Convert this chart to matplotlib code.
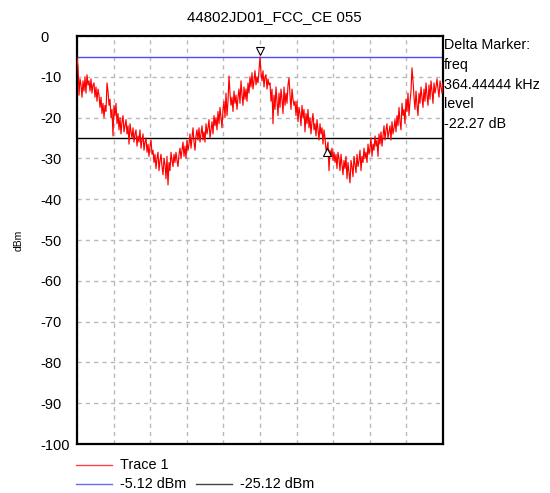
import numpy as np
import matplotlib
matplotlib.use("Agg")
import matplotlib.pyplot as plt
from matplotlib.lines import Line2D
import matplotlib.transforms as mtransforms

plt.rcParams['font.family'] = ['Liberation Sans', 'DejaVu Sans']

title = "44802JD01_FCC_CE 055"
span_khz = 2000.0
trace_dbm = [
    -5.3, -7.5, -14.5, -10.5, -12, -15, -11, -13.5, -10, -14,
    -9.5, -12, -11, -13.5, -10.5, -14, -12, -11.5, -15, -12.5,
    -16, -13, -14.5, -17.5, -15, -19, -16.5, -20, -17, -18.5,
    -11.5, -13.5, -17, -15.5, -20, -18, -24.5, -17, -19.5, -16.5,
    -21.5, -19, -23, -20, -24, -21, -19.5, -23.5, -22, -20.5,
    -24, -22, -26.5, -21.5, -23.5, -25, -22.5, -26, -24, -23,
    -27, -24.5, -26, -23, -27.5, -25.5, -24, -28, -26, -25,
    -28.5, -26.5, -29.5, -27, -25.5, -29, -28, -31, -29, -32.5,
    -30, -28.5, -33, -30.5, -29, -32, -34, -30, -31.5, -35,
    -29.5, -36.5, -31, -33, -28.5, -30.5, -32, -29, -31, -28.5,
    -30.5, -32, -29, -27.5, -30, -28, -26, -29.5, -27, -30,
    -25.5, -28, -26.5, -24, -27.5, -25, -22.5, -26, -28, -24.5,
    -23, -25.5, -22.5, -26, -24, -22, -25.5, -23.5, -26, -21.5,
    -24, -22.5, -20.5, -25, -23, -21, -24, -19.5, -22, -20,
    -23, -18.5, -21.5, -17.5, -20, -22.5, -18, -16, -20, -14,
    -19.5, -16, -9.8, -14, -17, -15, -18.5, -13.5, -16.5, -14.5,
    -18, -15, -13, -16.5, -11, -14.5, -17, -12.5, -15.5, -13,
    -16, -11.5, -14, -10, -12.5, -9, -13, -11, -8.5, -12,
    -10, -11.5, -8.5, -5.12, -9, -11, -8.5, -12.5, -10, -9.5,
    -13, -10.5, -12, -11.5, -16, -13, -21.5, -14.5, -18, -12.5,
    -16, -19.5, -14, -17.5, -13, -15.5, -19, -12.5, -17, -14,
    -16.5, -12, -10.3, -14.5, -18, -13, -15.5, -17, -16, -19.5,
    -16, -21, -17.5, -19, -22, -17, -20, -18, -23.5, -19,
    -21.5, -18, -22.5, -20, -24, -21, -19, -23, -21.5, -24.5,
    -20.5, -23, -25.5, -21.5, -24, -22.5, -26.5, -23, -25, -28,
    -27.4, -26, -33, -28, -29.5, -27.5, -30.5, -28.5, -31, -29,
    -32.5, -28.5, -30, -33, -29, -31.5, -34, -30.5, -32.5, -29.5,
    -35, -31, -33.5, -36, -30.5, -32, -34.5, -29.5, -31.5, -33.5,
    -29, -32, -30.5, -28, -33, -29.5, -31, -27.5, -30, -28.5,
    -31, -26.5, -29, -27.5, -25, -29.5, -26.5, -28, -24.5, -27,
    -25.5, -29.5, -24, -26.5, -23.5, -27, -24.5, -22, -25.5, -23,
    -21.5, -25, -23.5, -22, -25.5, -21, -24, -22.5, -20.5, -23.5,
    -19.5, -22, -17.5, -21, -23, -16.5, -19.5, -18, -21.5, -15.5,
    -18.5, -14, -19.5, -16, -13.5, -7.8, -11, -15, -18, -13.5,
    -17, -19.5, -14, -16.5, -12.5, -15, -17.5, -13, -16, -11.5,
    -14.5, -17, -12, -15.5, -11, -13.5, -16.5, -11.5, -14, -12.5,
    -10.5, -13, -15, -11, -12.5, -14, -11.5,
]
upper_line = -5.12
lower_line = -25.12
delta_freq_khz = 364.44444
delta_level_db = -22.27
yticks = [0, -10, -20, -30, -40, -50, -60, -70, -80, -90, -100]

trace = np.array(trace_dbm)
freq = np.linspace(0, span_khz, len(trace))

fig = plt.figure(figsize=(5.5, 4.93), dpi=100)
ax = fig.add_axes([77/550, 1-444/493, (443-77)/550, (444-36)/493])

ax.plot(freq, trace, color='#ff0000', lw=0.85, zorder=3)
ax.axhline(upper_line, color='#4a4aff', lw=1.0, zorder=2)
ax.axhline(lower_line, color='black', lw=1.0, zorder=2)

# markers
i1 = int(np.argmax(trace))
m1x, m1y = freq[i1], trace[i1]
m2x, m2y = m1x + delta_freq_khz, m1y + delta_level_db
off_up = mtransforms.offset_copy(ax.transData, fig=fig, x=0, y=4, units='points')
off_dn = mtransforms.offset_copy(ax.transData, fig=fig, x=0, y=-3, units='points')
ax.plot([m1x], [m1y], marker='v', ms=6, mfc='white', mec='black', mew=0.8,
        transform=off_up, zorder=5, ls='none')
ax.plot([m2x], [m2y], marker='^', ms=6, mfc='white', mec='black', mew=0.8,
        transform=off_dn, zorder=5, ls='none')

ax.set_xlim(0, span_khz)
ax.set_ylim(-100, 0)
ax.set_yticks(yticks)
ax.set_yticklabels([str(v) for v in yticks], fontsize=10.5)
for lab in ax.get_yticklabels():
    lab.set_horizontalalignment('left')
ax.set_xticks(np.linspace(0, span_khz, 11))
ax.set_xticklabels([])
ax.tick_params(axis='x', length=0)
ax.tick_params(axis='y', length=0, pad=26.6)
ax.grid(True, color='#b8b8b8', ls=(0, (3, 3)), lw=1.0)
for s in ax.spines.values():
    s.set_linewidth(1.6)
    s.set_color('black')
ax.set_ylabel('dBm', fontsize=7.5)
ax.yaxis.set_label_coords(-0.145, 0.5)

fig.text(274/550, 1-17/493, title, ha='center', va='center', fontsize=10.8)

info = ["Delta Marker:", "freq", f"{delta_freq_khz:.5f} kHz", "level", f"{delta_level_db:.2f} dB"]
for k, line in enumerate(info):
    fig.text(444/550, 1-(45+19.8*k)/493, line, ha='left', va='center', fontsize=10.3)

# legend
def leg_line(x0, x1, y, color):
    fig.add_artist(Line2D([x0/550, x1/550], [1-y/493, 1-y/493], color=color, lw=1.0,
                          transform=fig.transFigure))

leg_line(76, 112, 465, '#ff4444')
fig.text(120/550, 1-465/493, "Trace 1", ha='left', va='center', fontsize=10.4)
leg_line(76, 112, 484, '#6a6aff')
fig.text(120/550, 1-484/493, f"{upper_line:.2f} dBm", ha='left', va='center', fontsize=10.4)
leg_line(196, 232, 484, '#444444')
fig.text(240/550, 1-484/493, f"{lower_line:.2f} dBm", ha='left', va='center', fontsize=10.4)

fig.savefig('out.png', dpi=100)
